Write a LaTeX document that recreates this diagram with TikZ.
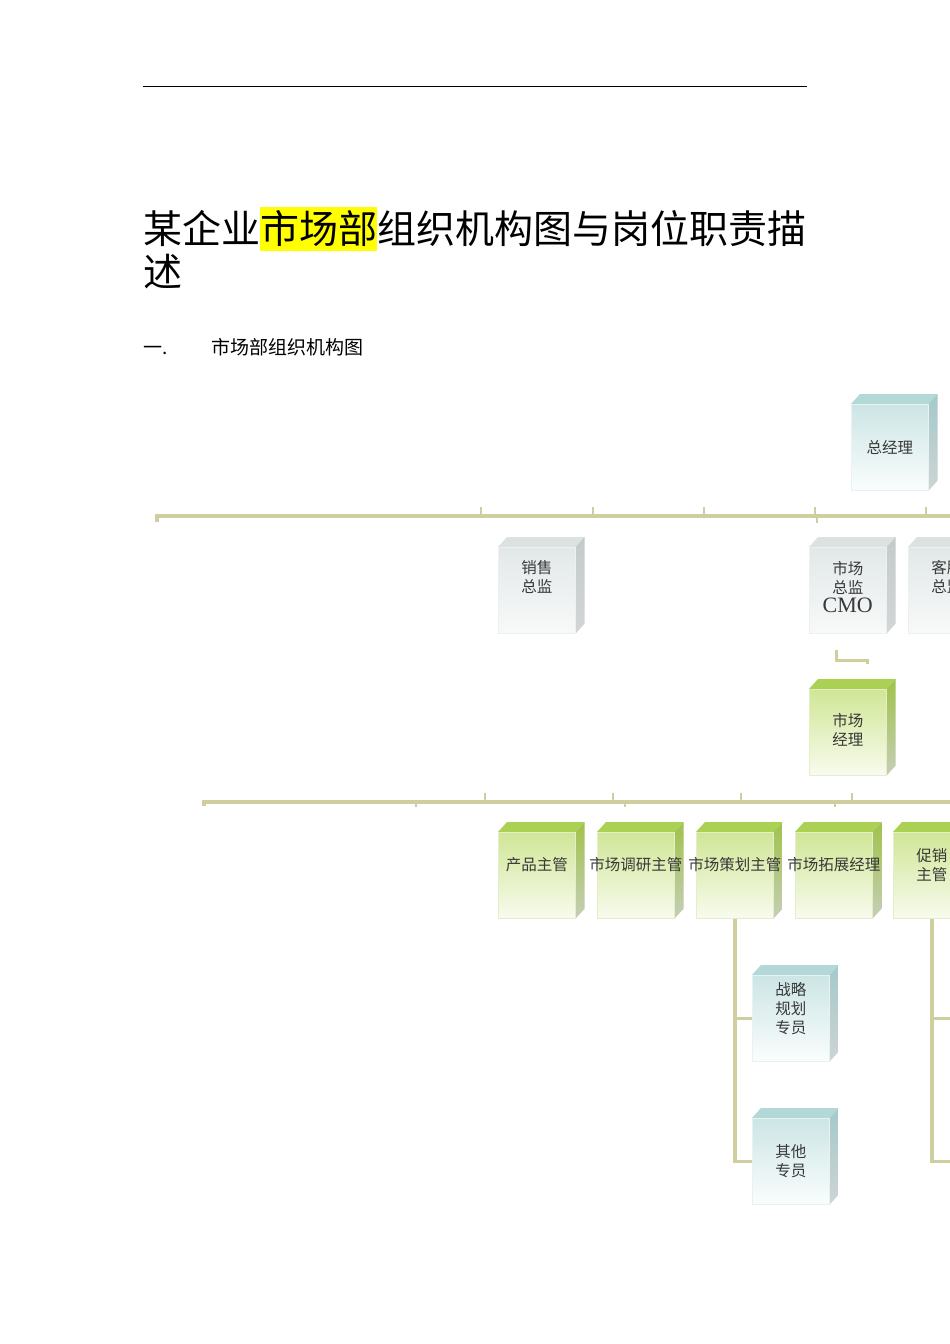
\documentclass[tikz,border=0pt]{standalone}
\usepackage{fontspec}
\setmainfont{Noto Sans CJK SC}
\newfontfamily\cmofont{Liberation Serif}
\definecolor{conn}{RGB}{206,206,158}
\definecolor{hilite}{RGB}{255,255,0}
\pgfdeclarelayer{faces}
\pgfsetlayers{faces,main}
\tikzset{
  box/.style={rectangle,inner sep=0pt,minimum width=77pt,minimum height=86pt,align=center,text=black!78,font=\fontsize{15.5}{19}\selectfont},
  lift/.style={text depth=#1},
  bus/.style={draw=conn,line width=4pt},
  tick/.style={draw=conn,line width=2.2pt},
  tealfront/.style={top color={rgb,255:red,205;green,229;blue,229},bottom color={rgb,255:red,250;green,253;blue,253},draw={rgb,255:red,232;green,242;blue,242},line width=0.6pt},
  tealtop/.style={fill={rgb,255:red,178;green,216;blue,216}},
  tealside/.style={top color={rgb,255:red,165;green,201;blue,201},bottom color={rgb,255:red,205;green,212;blue,212}},
  grayfront/.style={top color={rgb,255:red,226;green,232;blue,232},bottom color={rgb,255:red,248;green,249;blue,249},draw={rgb,255:red,238;green,240;blue,240},line width=0.6pt},
  graytop/.style={fill={rgb,255:red,220;green,226;blue,226}},
  grayside/.style={top color={rgb,255:red,196;green,202;blue,202},bottom color={rgb,255:red,210;green,214;blue,214}},
  greenfront/.style={top color={rgb,255:red,208;green,230;blue,150},bottom color={rgb,255:red,248;green,251;blue,238},draw={rgb,255:red,228;green,238;blue,200},line width=0.6pt},
  greentop/.style={fill={rgb,255:red,170;green,208;blue,84}},
  greenside/.style={top color={rgb,255:red,160;green,194;blue,74},bottom color={rgb,255:red,198;green,206;blue,184}}
}
% front face is the node, top and side go on the layer below
\newcommand\cubebox[5][]{%
  \node[box,#4front,anchor=north west,#1] (#2) at (#3) {#5};
  \begin{pgfonlayer}{faces}
  \fill[#4top] (#2.north west) -- ++(9,-10) -- ([shift={(9,-10)}]#2.north east) -- (#2.north east) -- cycle;
  \shade[#4side] (#2.north east) -- ++(9,-10) -- ([shift={(9,-10)}]#2.south east) -- (#2.south east) -- cycle;
  \end{pgfonlayer}
}
\begin{document}
\begin{tikzpicture}[x=1pt,y=-1pt]
\useasboundingbox (0,0) rectangle (950,1344);
\begin{pgfonlayer}{faces}
\fill[white] (0,0) rectangle (950,1344);
\end{pgfonlayer}
\clip (0,0) rectangle (950,1344);
%
\draw[line width=1pt] (143,86) -- (807,86);
\node[anchor=base west,inner sep=0pt,font=\fontsize{39}{42}\selectfont] (title) at (143,243)
  {某企业{\setlength\fboxsep{0pt}\colorbox{hilite}{\rule[-0.2em]{0pt}{1.12em}市场部}}组织机构图与岗位职责描};
\node[anchor=base west,inner sep=0pt,font=\fontsize{39}{42}\selectfont] (title2) at (143,286) {述};
\node[anchor=base west,inner sep=0pt,font=\fontsize{19}{22}\selectfont] (num) at (143,354) {一.};
\node[anchor=base west,inner sep=0pt,font=\fontsize{19}{22}\selectfont] (sub) at (211,354) {市场部组织机构图};
%
\cubebox{ceo}{851,404}{teal}{总经理}
\draw[bus] (157,522) -- (157,516) -- (960,516);
\foreach \x in {481,593,704,815,926} \draw[tick] (\x,507) -- (\x,516);
\draw[tick] (817,516) -- (817,523);
\cubebox[lift=28pt]{sales}{498,547}{gray}{销售\\总监}
\cubebox[lift=6pt]{cmo}{809,547}{gray}{市场\\总监\\{\cmofont\fontsize{22}{22}\selectfont CMO}}
\cubebox[lift=28pt]{service}{908,547}{gray}{客服\\总监}
\draw[conn,line width=3pt] (836,650) |- (867,660) -- (867,664);
\cubebox[lift=6pt]{mgr}{809,689}{green}{市场\\经理}
%
\draw[bus] (204,806) -- (204,802) -- (960,802);
\foreach \x in {485,613,741,852} \draw[tick] (\x,793) -- (\x,802);
\foreach \x in {416,625,835} \draw[tick] (\x,802) -- (\x,807);
\cubebox[lift=22pt]{prod}{498,832}{green}{产品主管}
\cubebox[lift=22pt]{research}{597,832}{green}{\makebox[0pt]{市场调研主管}}
\cubebox[lift=22pt]{plan}{696,832}{green}{\makebox[0pt]{市场策划主管}}
\cubebox[lift=22pt]{expand}{795,832}{green}{\makebox[0pt]{市场拓展经理}}
\cubebox[lift=22pt]{promo}{893,832}{green}{促销\\主管}
%
\cubebox[lift=20pt]{strat}{752,975}{teal}{战略\\规划\\专员}
\cubebox{other}{752,1118}{teal}{其他\\专员}
\draw[conn,line width=3.5pt] (plan.south) |- (strat.west);
\draw[conn,line width=3.5pt] (plan.south) |- (other.west);
\draw[conn,line width=3.5pt] (promo.south) |- ([xshift=40]strat.east -| promo.east);
\draw[conn,line width=3.5pt] (promo.south) |- ([xshift=40]other.east -| promo.east);
\end{tikzpicture}
\end{document}
